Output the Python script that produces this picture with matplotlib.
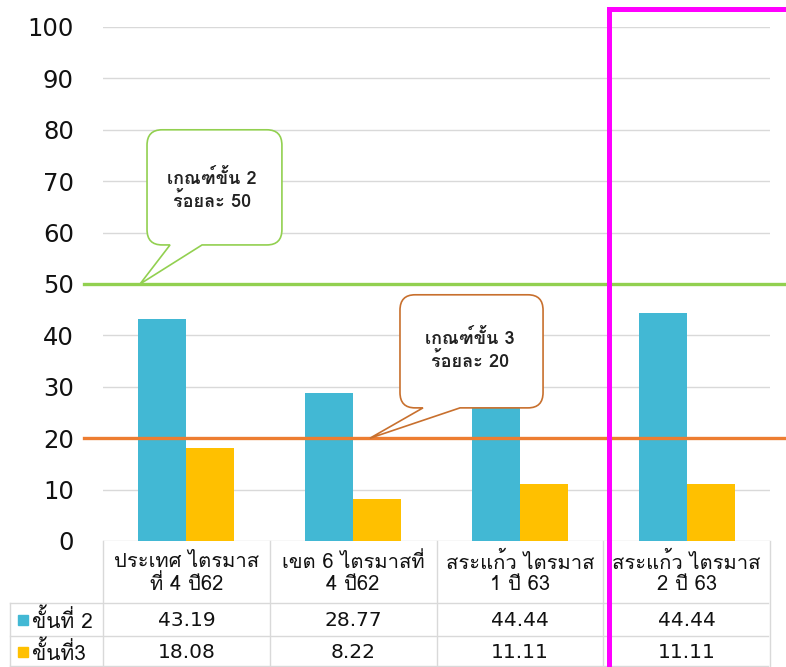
import matplotlib
matplotlib.use("Agg")
import matplotlib.pyplot as plt
from matplotlib.path import Path
from matplotlib.patches import PathPatch, Rectangle
from matplotlib.transforms import blended_transform_factory

# data
categories = ["ประเทศ ไตรมาส\nที่ 4 ปี62", "เขต 6 ไตรมาสที่\n4 ปี62",
              "สระแก้ว ไตรมาส\n1 ปี 63", "สระแก้ว ไตรมาส\n2 ปี 63"]
series_names = ["ขั้นที่ 2", "ขั้นที่3"]
level2 = [43.19, 28.77, 44.44, 44.44]
level3 = [18.08, 8.22, 11.11, 11.11]
yticks = [0, 10, 20, 30, 40, 50, 60, 70, 80, 90, 100]
threshold2 = 50
threshold3 = 20

BLUE = "#42B8D4"
YELLOW = "#FFC000"
GREEN = "#92D050"
ORANGE = "#ED7D31"
GRID = "#D9D9D9"

# Loma handles the stacked Thai marks without shaping; numbers use DejaVu
plt.rcParams["font.family"] = ["Loma", "DejaVu Sans"]
NUM = ["DejaVu Sans"]

W, H = 786, 667
fig = plt.figure(figsize=(W / 100, H / 100), dpi=100)
# axes box in pixels: left 103, right 770, top 27, bottom 541
ax = fig.add_axes([103 / W, 1 - 541 / H, 667 / W, 514 / H])
ax.set_xlim(-0.5, 3.5)
ax.set_ylim(0, 100)
for s in ax.spines.values():
    s.set_visible(False)
ax.set_yticks(yticks)
ax.set_yticklabels([str(t) for t in yticks], family=NUM)
ax.tick_params(axis="y", length=0, pad=21, labelsize=17.5, labelcolor="#111111")
ax.set_xticks([])
ax.grid(axis="y", color=GRID, linewidth=1)
ax.set_axisbelow(True)

x = list(range(len(categories)))
bw = 0.288
ax.bar([i - bw / 2 for i in x], level2, width=bw, color=BLUE, zorder=2)
ax.bar([i + bw / 2 for i in x], level3, width=bw, color=YELLOW, zorder=2)

# threshold lines run past the plot area on both sides
yt = ax.get_yaxis_transform()
ax.plot([-0.028, 1.03], [threshold2] * 2, color=GREEN, lw=2.4, transform=yt,
        clip_on=False, zorder=3)
ax.plot([-0.028, 1.03], [threshold3] * 2, color=ORANGE, lw=2.4, transform=yt,
        clip_on=False, zorder=3)


def callout(x0, x1, y0, y1, bx0, bx1, tip, rx, ry):
    verts = [(x0, y0 + ry), (x0, y1 - ry), (x0, y1), (x0 + rx, y1),
             (x1 - rx, y1), (x1, y1), (x1, y1 - ry), (x1, y0 + ry),
             (x1, y0), (x1 - rx, y0), (bx1, y0), tip, (bx0, y0),
             (x0 + rx, y0), (x0, y0), (x0, y0 + ry), (x0, y0 + ry)]
    codes = [Path.MOVETO, Path.LINETO, Path.CURVE3, Path.CURVE3,
             Path.LINETO, Path.CURVE3, Path.CURVE3, Path.LINETO,
             Path.CURVE3, Path.CURVE3, Path.LINETO, Path.LINETO, Path.LINETO,
             Path.LINETO, Path.CURVE3, Path.CURVE3, Path.CLOSEPOLY]
    return Path(verts, codes)


p2 = callout(-0.236, 0.573, 57.6, 80.0, -0.098, 0.094, (-0.278, threshold2), 0.09, 3.0)
ax.add_patch(PathPatch(p2, facecolor="white", edgecolor=GREEN, lw=1.2, zorder=4,
                       clip_on=False))
ax.text(0.154, 68.3, "เกณฑ์ขั้น 2\nร้อยละ 50", ha="center", va="center",
        fontsize=13, fontweight="bold", color="#222222", linespacing=1.3, zorder=5)

p3 = callout(1.281, 2.139, 25.9, 47.9, 1.419, 1.641, (1.101, threshold3), 0.09, 3.0)
ax.add_patch(PathPatch(p3, facecolor="white", edgecolor="#C8702E", lw=1.2, zorder=4,
                       clip_on=False))
ax.text(1.70, 37.2, "เกณฑ์ขั้น 3\nร้อยละ 20", ha="center", va="center",
        fontsize=13, fontweight="bold", color="#222222", linespacing=1.3, zorder=5)

# data table under the plot: x in category units, y in figure pixels
tt = blended_transform_factory(ax.transData, fig.transFigure)
fp = lambda py: 1 - py / H
lkw = dict(color=GRID, lw=1, clip_on=False, zorder=1)
for b in [-0.5, 0.5, 1.5, 2.5, 3.5]:
    ax.plot([b, b], [fp(541), fp(668)], transform=tt, **lkw)
for py in [603, 636, 666]:
    fig.add_artist(plt.Line2D([10 / W, 768 / W], [fp(py)] * 2, **lkw))
fig.add_artist(plt.Line2D([10 / W] * 2, [fp(603), fp(668)], **lkw))

for i, lab in enumerate(categories):
    ax.text(i, fp(573), lab, transform=tt, ha="center", va="center",
            fontsize=14.5, linespacing=1.15, color="#111111")
    ax.text(i, fp(620), f"{level2[i]:.2f}", transform=tt, ha="center",
            va="center", fontsize=14.5, color="#111111", family=NUM)
    ax.text(i, fp(652), f"{level3[i]:.2f}", transform=tt, ha="center",
            va="center", fontsize=14.5, color="#111111", family=NUM)

for py, name, col in [(620, series_names[0], BLUE), (652, series_names[1], YELLOW)]:
    fig.add_artist(Rectangle((18 / W, fp(py + 5)), 10 / W, 10 / H, color=col))
    fig.text(32 / W, fp(py), name, ha="left", va="center", fontsize=15,
             color="#111111")

# highlight frame around the latest quarter
fig.add_artist(Rectangle((609 / W, fp(700)), 300 / W, (700 - 9) / H, fill=False,
                         edgecolor="#FF00FF", lw=3.6, zorder=10))

fig.savefig("out.png", dpi=100)
